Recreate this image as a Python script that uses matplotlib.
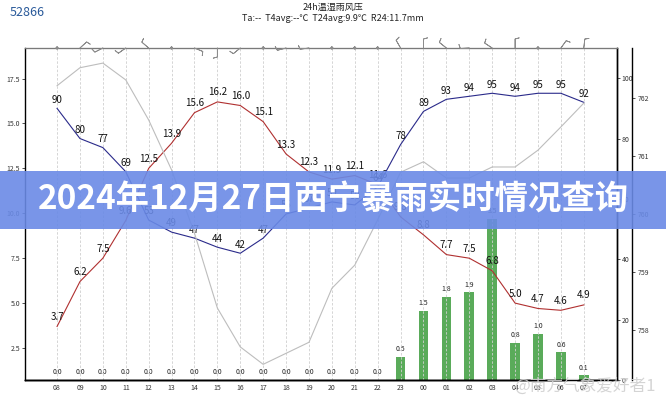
import numpy as np
import matplotlib
matplotlib.use("Agg")
import matplotlib.pyplot as plt
from matplotlib.patches import Rectangle

plt.rcParams['font.family'] = ['Noto Sans CJK SC', 'DejaVu Sans']

# 逐小时数据 (08时 至 次日07时)
hours = ['08', '09', '10', '11', '12', '13', '14', '15', '16', '17', '18', '19',
         '20', '21', '22', '23', '00', '01', '02', '03', '04', '05', '06', '07']
temp = [3.7, 6.2, 7.5, 9.6, 12.5, 13.9, 15.6, 16.2, 16.0, 15.1, 13.3, 12.3,
        11.9, 12.1, 11.6, 9.8, 8.8, 7.7, 7.5, 6.8, 5.0, 4.7, 4.6, 4.9]
humid = [90, 80, 77, 69, 53, 49, 47, 44, 42, 47, 55, 57,
         59, 58, 64, 78, 89, 93, 94, 95, 94, 95, 95, 92]
rain = [0.0] * 15 + [0.5, 1.5, 1.8, 1.9, 3.5, 0.8, 1.0, 0.6, 0.1]
press = [762.21, 762.52, 762.60, 762.31, 761.62, 760.76, 759.67, 758.38,
         757.71, 757.41, 757.60, 757.79, 758.72, 759.12, 759.90, 760.72,
         760.90, 760.62, 760.62, 760.81, 760.81, 761.10, 761.50, 761.91]
# 风杆方向 (屏幕上杆子的朝向, 0 表示静风)
wind_dx = [0, 33, -35, -38, -35, 0, 36, 0, -33, 0, -38, -37,
           0, 0, 0, -23, 0, -35, -37, -38, 0, 0, 29, 5]
wind_dy = [0, 30, -18, -27, 30, 0, -15, -40, -27, 0, -10, -5,
           0, 0, 0, 40, 45, 28, -2, 25, 52, 0, 40, 45]

x = np.arange(len(hours))

fig = plt.figure(figsize=(6.66, 4.0), dpi=100)
ax = fig.add_axes([25 / 666, 20 / 400, 592 / 666, 332 / 400])
ax_b = ax.twinx()
ax_h = ax.twinx()
ax_p = ax.twinx()

# 降水柱 (最底层)
ax_b.set_zorder(0)
ax.set_zorder(1)
ax_h.set_zorder(2)
ax_p.set_zorder(3)
for a in (ax, ax_h, ax_p):
    a.patch.set_visible(False)

ax_b.bar(x, rain, width=0.42, color='#5aab5a')
for xi, r in zip(x, rain):
    ax_b.text(xi, r + 0.08, f"{r:.1f}", ha='center', va='bottom', fontsize=5, color='#222222')
ax_b.set_ylim(0, 7.2)
ax_b.set_yticks([])
for s in ax_b.spines.values():
    s.set_visible(False)

# 竖直网格线
for xi in x:
    ax.axvline(xi, color='#cfcfcf', lw=0.6, ls=(0, (3, 2)), zorder=0)

# 气压
ax_p.plot(x, press, color='#bdbdbd', lw=0.8)
ax_p.set_ylim(757.14, 762.86)
ax_p.set_yticks([758, 759, 760, 761, 762])
ax_p.spines['right'].set_position(('axes', 1.026))
ax_p.tick_params(axis='y', labelsize=5, length=2, width=0.6, pad=1.5, colors='#333333')

# 湿度
ax_h.plot(x, humid, color='#2a2a8a', lw=0.8)
for xi, h in zip(x, humid):
    ax_h.text(xi, h + 1.2, f"{h}", ha='center', va='bottom', fontsize=7, color='#111111')
ax_h.set_ylim(0, 110)
ax_h.set_yticks([0, 20, 40, 60, 80, 100])
ax_h.tick_params(axis='y', labelsize=5, length=2, width=0.6, pad=1.5, colors='#333333')

# 温度
ax.plot(x, temp, color='#b03030', lw=0.8)
for xi, t in zip(x, temp):
    ax.text(xi, t + 0.25, f"{t:.1f}", ha='center', va='bottom', fontsize=7, color='#111111')
ax.set_ylim(0.72, 19.2)
ax.set_yticks([2.5, 5.0, 7.5, 10.0, 12.5, 15.0, 17.5])
ax.set_yticklabels([f"{v:.1f}" for v in [2.5, 5.0, 7.5, 10.0, 12.5, 15.0, 17.5]])
ax.tick_params(axis='y', labelsize=5, length=2, width=0.6, pad=1.5, colors='#333333')
ax.set_xlim(-1.4, 24.45)
ax.set_xticks(x)
ax.set_xticklabels(hours)
ax.tick_params(axis='x', labelsize=5, length=0, pad=3, colors='#333333')

for a in (ax, ax_h, ax_p):
    a.spines['top'].set_color('#7a7a7a')
    a.spines['left'].set_linewidth(1.0)
    a.spines['right'].set_linewidth(1.0)
    a.spines['bottom'].set_linewidth(1.0)
ax_h.spines['left'].set_visible(False)
ax_p.spines['left'].set_visible(False)

# 风杆 (顶部)
d = np.hypot(wind_dx, wind_dy)
calm = d == 0
d[calm] = 1
spd = np.where(calm, 0, 10)
u = -spd * np.array(wind_dx) / d
v = -spd * np.array(wind_dy) / d
ax_p.barbs(x, np.ones(len(x)), u, v, transform=ax.get_xaxis_transform(),
           length=3.6, linewidth=0.6, color='#8c8c8c', clip_on=False, zorder=5,
           sizes=dict(emptybarb=0.11, height=0.45))
ax_p.set_xlim(-1.4, 24.45)

# 标题
fig.text(0.5, 0.993, "24h温湿雨风压", ha='center', va='top', fontsize=6.5, color='#222222')
fig.text(0.5, 0.966, "Ta:--  T4avg:--℃  T24avg:9.9℃  R24:11.7mm", ha='center', va='top',
         fontsize=6.5, color='#222222')
fig.text(0.015, 0.985, "52866", ha='left', va='top', fontsize=9, color='#2a5a9a')

# 横幅
fig.patches.append(Rectangle((0, 1 - 229 / 400), 1, 58 / 400, transform=fig.transFigure,
                             facecolor='#6a8ae6', alpha=0.9, edgecolor='none', zorder=10))
fig.text(0.5, 1 - 200 / 400, "2024年12月27日西宁暴雨实时情况查询", ha='center', va='center',
         fontsize=24, fontweight='bold', color='white', zorder=11)

# 水印
fig.text(0.985, 0.035, "@南方气象爱好者1", ha='right', va='center', fontsize=12,
         color='#d0d0d0', alpha=0.9, zorder=11)

fig.savefig("out.png", dpi=100)
